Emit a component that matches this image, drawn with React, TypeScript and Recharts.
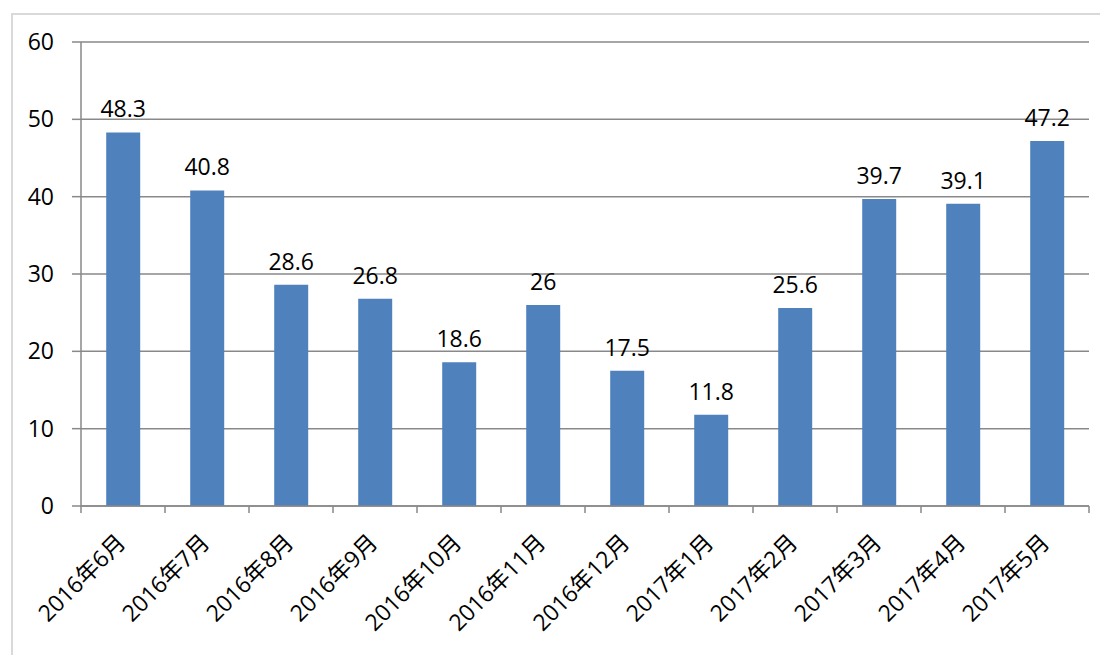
import React from 'react';
import { BarChart, Bar, XAxis, YAxis, CartesianGrid, LabelList } from 'recharts';

const months = [
  '2016年6月', '2016年7月', '2016年8月', '2016年9月', '2016年10月', '2016年11月',
  '2016年12月', '2017年1月', '2017年2月', '2017年3月', '2017年4月', '2017年5月',
];
const values = [48.3, 40.8, 28.6, 26.8, 18.6, 26, 17.5, 11.8, 25.6, 39.7, 39.1, 47.2];
const yTicks = [0, 10, 20, 30, 40, 50, 60];

const data = months.map((m, i) => ({ month: m, value: values[i] }));

const AXIS = '#898989';
const FONT = '"Open Sans", "Noto Sans CJK SC", sans-serif';
const FS = 23;

const XTick = (props: any) => {
  const { x, y, payload, index, width } = props;
  const n = months.length;
  const half = width / n / 2;
  return (
    <g>
      <line x1={x - half} x2={x - half} y1={y} y2={y + 7} stroke={AXIS} strokeWidth={1.5} />
      {index === n - 1 && (
        <line x1={x + half} x2={x + half} y1={y} y2={y + 7} stroke={AXIS} strokeWidth={1.5} />
      )}
      <text
        transform={`translate(${x + 4},${y + 38}) rotate(-45)`}
        textAnchor="end"
        fontSize={FS}
        fill="#000"
        fontFamily={FONT}
      >
        {payload.value}
      </text>
    </g>
  );
};

export default function App() {
  return (
    <div style={{ position: 'relative', width: 1100, height: 647, overflow: 'hidden', fontFamily: FONT, background: '#fff' }}>
      <div
        style={{
          position: 'absolute', left: 3, top: 5, width: 2000, height: 2000,
          borderLeft: '2px solid #d9d9d9', borderTop: '2px solid #d9d9d9',
        }}
      />
      <div style={{ position: 'absolute', left: 0, top: 0 }}>
        <BarChart
          width={1100}
          height={647}
          data={data}
          margin={{ top: 34, right: 19, left: 0, bottom: 0 }}
          barCategoryGap="30%"
        >
          <CartesianGrid vertical={false} stroke={AXIS} strokeWidth={1.5} />
          <XAxis
            dataKey="month"
            interval={0}
            height={149}
            tickSize={0}
            tickMargin={0}
            tickLine={false}
            axisLine={{ stroke: AXIS, strokeWidth: 1.5 }}
            tick={<XTick />}
          />
          <YAxis
            domain={[0, 60]}
            ticks={yTicks}
            width={73}
            tickSize={9}
            tickMargin={18}
            axisLine={{ stroke: AXIS, strokeWidth: 1.5 }}
            tickLine={{ stroke: AXIS, strokeWidth: 1.5 }}
            tick={{ fill: '#000', fontSize: FS }}
          />
          <Bar dataKey="value" fill="#4F81BD" isAnimationActive={false}>
            <LabelList dataKey="value" position="top" offset={15} fill="#000" fontSize={FS} />
          </Bar>
        </BarChart>
      </div>
    </div>
  );
}
